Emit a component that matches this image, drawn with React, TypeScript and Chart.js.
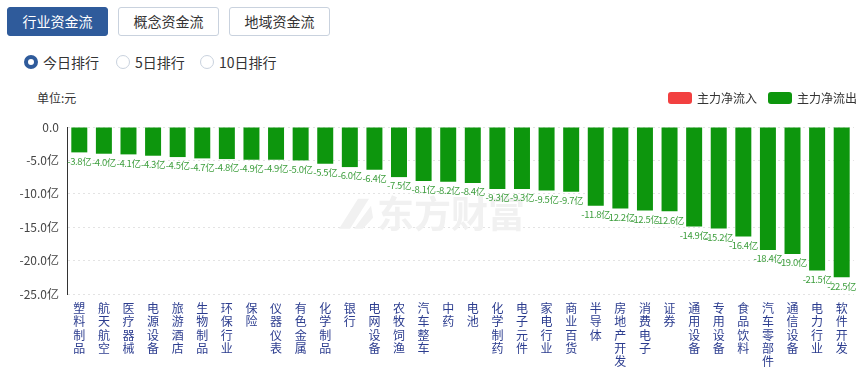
import React, { useEffect, useRef } from 'react';
import { Chart, registerables } from 'chart.js';

Chart.register(...registerables);

const categories = [
  '塑料制品', '航天航空', '医疗器械', '电源设备', '旅游酒店', '生物制品', '环保行业', '保险',
  '仪器仪表', '有色金属', '化学制品', '银行', '电网设备', '农牧饲渔', '汽车整车', '中药',
  '电池', '化学制药', '电子元件', '家电行业', '商业百货', '半导体', '房地产开发', '消费电子',
  '证券', '通用设备', '专用设备', '食品饮料', '汽车零部件', '通信设备', '电力行业', '软件开发',
];

const netFlow = [
  -3.8, -4.0, -4.1, -4.3, -4.5, -4.7, -4.8, -4.9,
  -4.9, -5.0, -5.5, -6.0, -6.4, -7.5, -8.1, -8.2,
  -8.4, -9.3, -9.3, -9.5, -9.7, -11.8, -12.2, -12.5,
  -12.6, -14.9, -15.2, -16.4, -18.4, -19.0, -21.5, -22.5,
];

const seriesNames = ['主力净流入', '主力净流出'];
const yMin = -25;
const yMax = 0;
const yStep = 5;

const tabs = ['行业资金流', '概念资金流', '地域资金流'];
const ranks = ['今日排行', '5日排行', '10日排行'];

const FONT = '"Noto Sans CJK SC", "Noto Sans", sans-serif';
const GREEN = '#0d960d';
const RED = '#f24040';

const valueLabelPlugin = {
  id: 'valueLabels',
  afterDatasetsDraw(chart: any) {
    const ctx = chart.ctx;
    const meta = chart.getDatasetMeta(1);
    const data = chart.data.datasets[1].data;
    ctx.save();
    ctx.font = `9.5px ${FONT}`;
    try { (ctx as any).letterSpacing = '-0.4px'; } catch (e) {}
    ctx.fillStyle = '#3d9e3d';
    ctx.textAlign = 'center';
    ctx.textBaseline = 'top';
    meta.data.forEach((el: any, i: number) => {
      const v = data[i];
      if (v == null) return;
      ctx.fillText(`${Number(v).toFixed(1)}亿`, el.x, el.y + 4);
    });
    ctx.restore();
  },
};

const legendPlugin = {
  id: 'customLegend',
  afterDraw(chart: any) {
    const ctx = chart.ctx;
    const items = chart.data.datasets.map((d: any) => ({ label: d.label, color: d.backgroundColor }));
    const starts = [668, 768];
    ctx.save();
    ctx.font = `12px ${FONT}`;
    ctx.textBaseline = 'middle';
    ctx.textAlign = 'left';
    items.forEach((it: any, i: number) => {
      const x = starts[i];
      ctx.fillStyle = it.color;
      ctx.beginPath();
      (ctx as any).roundRect(x, 12, 24, 12, 3);
      ctx.fill();
      ctx.fillStyle = '#333';
      ctx.fillText(it.label, x + 29, 18);
    });
    ctx.restore();
  },
};

const watermarkPlugin = {
  id: 'watermark',
  beforeDatasetsDraw(chart: any) {
    const { ctx, chartArea } = chart;
    const cx = chartArea.left + (chartArea.right - chartArea.left) * 0.46;
    const cy = chartArea.top + (chartArea.bottom - chartArea.top) * 0.52;
    ctx.save();
    ctx.fillStyle = '#f1f1f1';
    ctx.font = `bold 37px ${FONT}`;
    ctx.textAlign = 'left';
    ctx.textBaseline = 'middle';
    ctx.fillText('东方财富', cx - 52, cy);
    ctx.beginPath();
    ctx.moveTo(cx - 90, cy + 15);
    ctx.lineTo(cx - 71, cy - 15);
    ctx.lineTo(cx - 60, cy - 15);
    ctx.lineTo(cx - 79, cy + 15);
    ctx.closePath();
    ctx.fill();
    ctx.beginPath();
    ctx.moveTo(cx - 75, cy + 15);
    ctx.lineTo(cx - 58, cy - 8);
    ctx.lineTo(cx - 56, cy + 4);
    ctx.lineTo(cx - 66, cy + 15);
    ctx.closePath();
    ctx.fill();
    ctx.restore();
  },
};

function ChartView() {
  const ref = useRef<HTMLCanvasElement | null>(null);
  useEffect(() => {
    if (!ref.current) return;
    const chart = new Chart(ref.current, {
      type: 'bar',
      data: {
        labels: categories,
        datasets: [
          {
            label: seriesNames[0],
            data: netFlow.map((v) => (v > 0 ? v : null)),
            backgroundColor: RED,
            grouped: false,
            barPercentage: 0.65,
            categoryPercentage: 1,
          } as any,
          {
            label: seriesNames[1],
            data: netFlow.map((v) => (v <= 0 ? v : null)),
            backgroundColor: GREEN,
            grouped: false,
            barPercentage: 0.65,
            categoryPercentage: 1,
          } as any,
        ],
      },
      options: {
        animation: false,
        responsive: true,
        maintainAspectRatio: false,
        layout: { padding: { top: 47, right: 13, left: 0, bottom: 0 } },
        plugins: {
          legend: { display: false },
          tooltip: { enabled: false },
        },
        scales: {
          x: {
            grid: { display: false, drawTicks: false },
            border: { display: false },
            ticks: {
              autoSkip: false,
              maxRotation: 0,
              minRotation: 0,
              padding: 8,
              color: '#2c3d8f',
              font: { size: 12, family: FONT, lineHeight: 1.1 },
              callback: (_v: any, i: number) => categories[i].split(''),
            },
            afterFit: (s: any) => { s.height = 73; },
          },
          y: {
            min: yMin,
            max: yMax,
            grid: { color: '#e3e3e3', drawTicks: false },
            border: { display: true, color: '#333', width: 1, dash: [2, 3] },
            ticks: {
              stepSize: yStep,
              padding: 8,
              color: '#444',
              font: { size: 12, family: FONT },
              callback: (v: any) => (Number(v) === 0 ? '0.0' : `${Number(v).toFixed(1)}亿`),
            },
            afterFit: (s: any) => { s.width = 67; },
          },
        },
      },
      plugins: [watermarkPlugin, valueLabelPlugin, legendPlugin],
    });
    return () => chart.destroy();
  }, []);
  return <canvas ref={ref} />;
}

export default function App() {
  return (
    <div style={{ position: 'fixed', left: 0, top: 0, width: 867, height: 367, background: '#fff', fontFamily: FONT, overflow: 'hidden' }}>
      {tabs.map((t, i) => (
        <div
          key={t}
          style={{
            position: 'absolute',
            left: [7, 118, 229][i],
            top: 7,
            width: 101,
            height: 29,
            boxSizing: 'border-box',
            border: i === 0 ? '1px solid #2f5b9b' : '1px solid #c9d2de',
            background: i === 0 ? '#2f5b9b' : '#fff',
            color: i === 0 ? '#fff' : '#333',
            borderRadius: 3,
            fontSize: 14,
            lineHeight: '27px',
            textAlign: 'center',
          }}
        >
          {t}
        </div>
      ))}
      {ranks.map((r, i) => (
        <div key={r} style={{ position: 'absolute', left: [24, 116, 200][i], top: 52, height: 20, display: 'flex', alignItems: 'center', fontSize: 14, color: '#333' }}>
          <span
            style={{
              display: 'inline-block',
              width: i === 0 ? 6 : 12,
              height: i === 0 ? 6 : 12,
              borderRadius: '50%',
              border: i === 0 ? '4px solid #2f5b9b' : '1px solid #c9d2de',
              background: '#fff',
              marginRight: 5,
              boxSizing: 'content-box',
            }}
          />
          {r}
        </div>
      ))}
      <div style={{ position: 'absolute', left: 37, top: 89, fontSize: 12, color: '#333' }}>单位:元</div>
      <div style={{ position: 'absolute', left: 0, top: 80, width: 867, height: 287 }}>
        <ChartView />
      </div>
    </div>
  );
}
